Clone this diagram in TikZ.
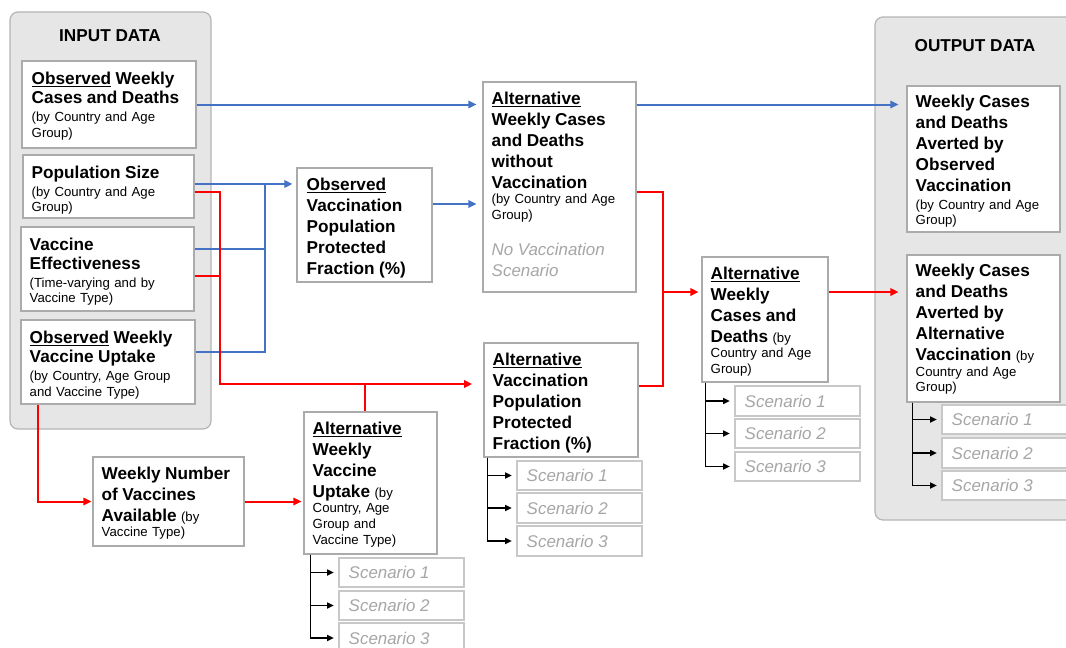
\documentclass[tikz,border=0pt]{standalone}
\usepackage{fontspec}
\setmainfont{Liberation Sans}
\usetikzlibrary{fit,arrows.meta,calc}
\definecolor{myblue}{HTML}{4472C4}
\definecolor{myred}{HTML}{FF0000}
\definecolor{boxgray}{HTML}{ABABAB}
\definecolor{contfill}{HTML}{E6E6E6}
\definecolor{contborder}{HTML}{B4B4B4}
\definecolor{scenborder}{HTML}{C8C8C8}
\definecolor{scentext}{HTML}{A6A6A6}
\newcommand\bigA{\fontsize{12.9}{14.25}\selectfont\bfseries}
\newcommand\bigB{\fontsize{12.9}{15.75}\selectfont\bfseries}
\newcommand\smallT{\fontsize{9.9}{11.7}\selectfont\mdseries}
\newcommand\scenT{\fontsize{12.7}{15.75}\selectfont\mdseries\itshape\color{scentext}}
\begin{document}
\begin{tikzpicture}[x=0.75pt,y=-0.75pt,
  cont/.style={draw=contborder, fill=contfill, rounded corners=6pt, line width=0.9pt, inner sep=0pt},
  box/.style={draw=boxgray, fill=white, line width=0.8pt, inner sep=0pt},
  scen/.style={draw=scenborder, fill=white, line width=0.8pt, inner sep=0pt},
  txt/.style={anchor=north west, inner sep=0pt, text width=160pt, align=left},
  stxt/.style={anchor=west, inner sep=0pt, font=\scenT},
  title/.style={anchor=base, inner sep=0pt, font=\fontsize{12.9}{15}\selectfont\bfseries},
  bl/.style={draw=myblue, line width=1.5pt},
  bla/.style={bl, -{Triangle[length=6pt,width=5.5pt]}},
  rl/.style={draw=myred, line width=1.5pt},
  rla/.style={rl, -{Triangle[length=6pt,width=5.5pt]}},
  sarr/.style={draw=black, line width=0.9pt, -{Triangle[length=5pt,width=4.6pt]}},
]
\useasboundingbox (0,0) rectangle (1066,647);
\clip (0,0) rectangle (1066,647);

% containers
\node[cont, fit={(10,12) (211,429)}] (inC) {};
\node[title] (inT) at (110,41) {INPUT DATA};
\node[cont, fit={(875,17) (1076,520)}] (outC) {};
\node[title] (outT) at (975,51) {OUTPUT DATA};

% boxes
\node[box, fit={(22,61) (196,148)}] (b1) {};
\node[box, fit={(23,155) (194,218)}] (b2) {};
\node[box, fit={(21,227) (194,311)}] (b3) {};
\node[box, fit={(21,320) (195,404)}] (b4) {};
\node[box, fit={(297,168) (432,282)}] (ovp) {};
\node[box, fit={(483,82) (636,292)}] (awc) {};
\node[box, fit={(484,343) (638,457)}] (avp) {};
\node[box, fit={(304,412) (437,554)}] (awv) {};
\node[box, fit={(93,457) (244,546)}] (wnv) {};
\node[box, fit={(702,257) (828,382)}] (acd) {};
\node[box, fit={(907,86) (1060,232)}] (o1) {};
\node[box, fit={(907,255) (1060,402)}] (o2) {};

% texts
\node[txt] (b1t) at ([shift={(10,11.5)}]b1.north west)
  {{\bigA\underline{Observed} Weekly\\Cases and Deaths\par}\vspace{1.8pt}{\smallT (by Country and Age\\Group)\par}};
\node[txt] (b2t) at ([shift={(9,11)}]b2.north west)
  {{\bigA Population Size\par}\vspace{1.8pt}{\smallT (by Country and Age\\Group)\par}};
\node[txt] (b3t) at ([shift={(9,11)}]b3.north west)
  {{\bigA Vaccine\\Effectiveness\par}\vspace{1.8pt}{\smallT (Time-varying and by\\Vaccine Type)\par}};
\node[txt] (b4t) at ([shift={(9,11.5)}]b4.north west)
  {{\bigA\underline{Observed} Weekly\\Vaccine Uptake\par}\vspace{1.8pt}{\smallT (by Country, Age Group\\and Vaccine Type)\par}};
\node[txt] (ovpt) at ([shift={(10,10)}]ovp.north west)
  {{\bigB\underline{Observed}\\Vaccination\\Population\\Protected\\Fraction (\%)\par}};
\node[txt] (awct) at ([shift={(9,10)}]awc.north west)
  {{\bigB\underline{Alternative}\\Weekly Cases\\and Deaths\\without\\Vaccination\par}{\smallT (by Country and Age\\Group)\par}\vspace{11pt}{\scenT No Vaccination\\Scenario\par}};
\node[txt] (avpt) at ([shift={(9,10)}]avp.north west)
  {{\bigB\underline{Alternative}\\Vaccination\\Population\\Protected\\Fraction (\%)\par}};
\node[txt] (awvt) at ([shift={(9,10)}]awv.north west)
  {{\bigB\underline{Alternative}\\Weekly\\Vaccine\\Uptake {\smallT(by}\par}{\smallT Country, Age\\Group and\\Vaccine Type)\par}};
\node[txt] (wnvt) at ([shift={(9,10)}]wnv.north west)
  {{\bigB Weekly Number\\of Vaccines\\Available {\smallT(by}\par}{\smallT Vaccine Type)\par}};
\node[txt] (acdt) at ([shift={(9,10)}]acd.north west)
  {{\bigB\underline{Alternative}\\Weekly\\Cases and\\Deaths {\smallT(by}\par}{\smallT Country and Age\\Group)\par}};
\node[txt] (o1t) at ([shift={(9,9.5)}]o1.north west)
  {{\bigB Weekly Cases\\and Deaths\\Averted by\\Observed\\Vaccination\par}\vspace{1.5pt}{\smallT (by Country and Age\\Group)\par}};
\node[txt] (o2t) at ([shift={(9,9.5)}]o2.north west)
  {{\bigB Weekly Cases\\and Deaths\\Averted by\\Alternative\\Vaccination {\smallT(by}\par}{\smallT Country and Age\\Group)\par}};

% scenario boxes
\node[scen, fit={(735,386) (860,416)}] (acdS1) {};
\node[scen, fit={(735,419) (860,448)}] (acdS2) {};
\node[scen, fit={(735,452) (860,481)}] (acdS3) {};
\node[scen, fit={(942,405) (1080,434)}] (o2S1) {};
\node[scen, fit={(942,438) (1080,468)}] (o2S2) {};
\node[scen, fit={(942,471) (1080,500)}] (o2S3) {};
\node[scen, fit={(517,461) (642,490)}] (avpS1) {};
\node[scen, fit={(517,493) (642,523)}] (avpS2) {};
\node[scen, fit={(517,526) (642,556)}] (avpS3) {};
\node[scen, fit={(339,558) (464,587)}] (awvS1) {};
\node[scen, fit={(339,591) (464,620)}] (awvS2) {};
\node[scen, fit={(339,623) (464,653)}] (awvS3) {};
\foreach \s in {acd,o2,avp,awv}{
  \foreach \i in {1,2,3}{
    \node[stxt] (\s T\i) at ([xshift=7.5pt]\s S\i.west) {Scenario \i};
  }
}

% scenario connectors
\coordinate (acdV) at ([xshift=3pt]acd.south west);
\coordinate (o2V) at ([xshift=4.5pt]o2.south west);
\coordinate (avpV) at ([xshift=3pt]avp.south west);
\coordinate (awvV) at ([xshift=5.25pt]awv.south west);
\foreach \s in {acd,o2,avp,awv}{
  \foreach \i in {1,2,3}{
    \draw[sarr, shorten >=3.5pt] (\s V) |- (\s S\i.west);
  }
}

% blue connectors
\draw[bla, shorten >=4.5pt] (b1.east) -- (b1.east -| awc.west);
\draw[bla, shorten >=6pt] (b1.east -| awc.east) -- (b1.east -| o1.west);
\draw[bla, shorten >=3pt] ([yshift=1.9pt]b2.east) coordinate (pb) -- (pb -| ovp.west);
\path (pb) -- ++(70,0) coordinate (jb);
\draw[bl] ([yshift=15pt]b3.east) -| (jb);
\draw[bl] ([yshift=7.5pt]b4.east) -| (jb);
\draw[bla, shorten >=4.5pt] ([yshift=15.75pt]ovp.east) coordinate (po) -- (po -| awc.west);

% red connectors
\coordinate (pav) at ([yshift=12pt]avp.west);
\draw[rla, shorten >=8.5pt] ([yshift=-4.1pt]b2.east) -- ++(25,0) coordinate (jr) |- (pav);
\draw[rl] ([yshift=-5.25pt]b3.east) coordinate (p3) -- (p3 -| jr);
\draw[rl] ([xshift=-4.1pt]awv.north) -- ([xshift=-4.1pt]awv.north |- pav);
\draw[rla, shorten >=0.75pt] ([xshift=13.5pt]b4.south west) |- (wnv.west);
\draw[rla, shorten >=1.5pt] (wnv.east) -- (wnv.east -| awv.west);
\draw[rl] ([yshift=-3.75pt]awc.east) -- ++(26,0) coordinate (jr2) |- ([yshift=10.5pt]avp.east);
\draw[rla, shorten >=2.25pt] ([yshift=20.6pt]acd.west -| jr2) -- ([yshift=20.6pt]acd.west);
\draw[rla, shorten >=6pt] ([yshift=20.6pt]acd.east) -- ([yshift=20.6pt]acd.east -| o2.west);
\end{tikzpicture}
\end{document}
